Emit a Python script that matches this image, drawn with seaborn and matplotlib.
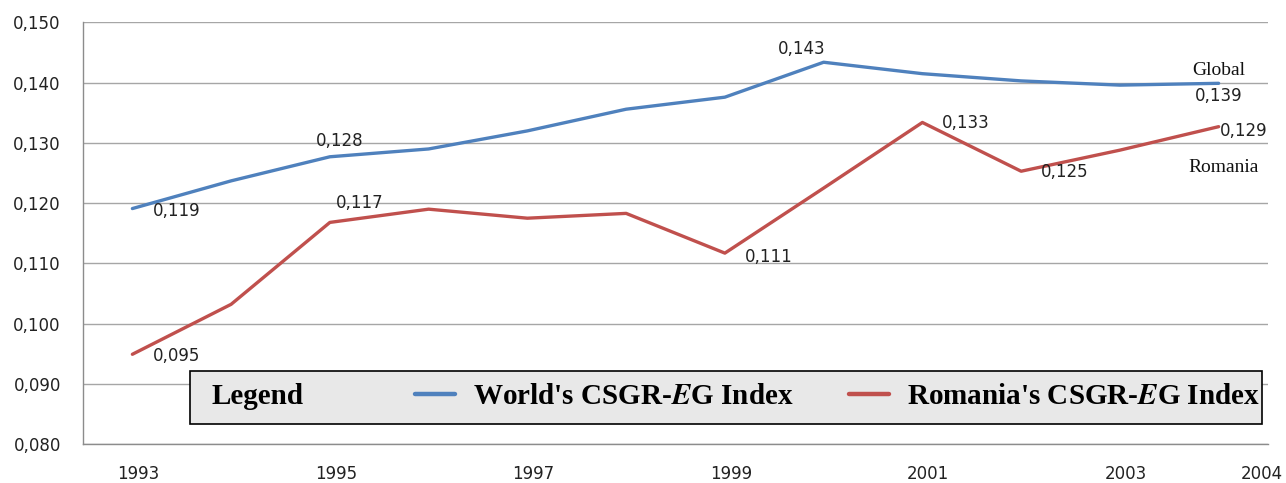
import matplotlib
matplotlib.use("Agg")
import pandas as pd
import matplotlib.pyplot as plt
import matplotlib.transforms as mtransforms
import seaborn as sns
from matplotlib.lines import Line2D
from matplotlib.patches import Rectangle
from matplotlib.ticker import FixedLocator, FuncFormatter

# --- data ---
years = list(range(1993, 2005))
world = [0.1191, 0.1237, 0.1277, 0.1290, 0.1320, 0.1356, 0.1376, 0.1434, 0.1415, 0.1403, 0.1396, 0.1399]
romania = [0.0949, 0.1032, 0.1168, 0.1190, 0.1175, 0.1183, 0.1117, 0.1225, 0.1334, 0.1253, 0.1288, 0.1327]
series_names = ["World", "Romania"]
legend_labels = ["World's CSGR-$\\mathbfit{E}$G Index", "Romania's CSGR-$\\mathbfit{E}$G Index"]
colors = ["#4f81bd", "#c0504d"]
year_labels = ["1993", "1995", "1997", "1999", "2001", "2003"]

# value labels: series, year, text, offset in pixels
value_labels = [
    ("World", 1993, "0,119", 44, -2),
    ("World", 1995, "0,128", 10, 16),
    ("World", 2000, "0,143", -22, 13),
    ("World", 2004, "0,139", 0, -13),
    ("Romania", 1993, "0,095", 44, -2),
    ("Romania", 1995, "0,117", 30, 19),
    ("Romania", 1999, "0,111", 44, -4),
    ("Romania", 2001, "0,133", 43, -1),
    ("Romania", 2002, "0,125", 44, -1),
    ("Romania", 2004, "0,129", 25, -4),
]
# series names at the end of the lines
end_labels = [("World", "Global", 0, 13), ("Romania", "Romania", 5, -41)]

df = pd.DataFrame({
    "year": years * 2,
    "value": world + romania,
    "series": [series_names[0]] * len(years) + [series_names[1]] * len(years),
})
values = {"World": dict(zip(years, world)), "Romania": dict(zip(years, romania))}

sns.set_style("white")
plt.rcParams["mathtext.fontset"] = "stix"

W, H = 1286, 483
fig = plt.figure(figsize=(W / 100, H / 100), dpi=100)
ax = fig.add_axes([83 / W, 1 - 444 / H, (1268 - 83) / W, (444 - 22.5) / H])

sns.lineplot(data=df, x="year", y="value", hue="series", palette=colors,
             linewidth=2.4, legend=False, ax=ax)

ax.set_xlim(1992.5, 2004.5)
ax.set_ylim(0.080, 0.150)
ax.set_xlabel("")
ax.set_ylabel("")

# y axis
ax.yaxis.set_major_locator(FixedLocator([0.08 + 0.01 * i for i in range(8)]))
ax.yaxis.set_major_formatter(FuncFormatter(lambda v, p: f"{v:.3f}".replace(".", ",")))
ax.yaxis.grid(True, color="#a6a6a6", linewidth=1)
ax.set_axisbelow(True)

# x axis: tick marks between categories, labels on odd years
bounds = [y - 0.5 for y in years] + [years[-1] + 0.5]
ax.xaxis.set_major_locator(FixedLocator(bounds))
ax.xaxis.set_major_formatter(FuncFormatter(lambda v, p: "2004" if v > 2004 else ""))
ax.xaxis.set_minor_locator(FixedLocator([int(s) for s in year_labels]))
ax.xaxis.set_minor_formatter(FuncFormatter(lambda v, p: str(int(round(v)))))

ax.tick_params(axis="x", which="major", direction="out", length=5, width=1,
               color="#8c8c8c", pad=10, labelsize=12, labelcolor="#222222")
ax.tick_params(axis="x", which="minor", length=0, pad=15, labelsize=12, labelcolor="#222222")
ax.tick_params(axis="y", direction="out", length=5, width=1, color="#8c8c8c",
               pad=11, labelsize=12, labelcolor="#222222")

for side in ["top", "right"]:
    ax.spines[side].set_visible(False)
for side in ["left", "bottom"]:
    ax.spines[side].set_color("#8c8c8c")
    ax.spines[side].set_linewidth(1)

# nudge the year labels a little like the original
fig.canvas.draw()
for lab in ax.xaxis.get_minorticklabels():
    lab.set_transform(lab.get_transform() + mtransforms.ScaledTranslation(0.06, 0, fig.dpi_scale_trans))
for lab in ax.xaxis.get_majorticklabels():
    lab.set_transform(lab.get_transform() + mtransforms.ScaledTranslation(-0.06, 0, fig.dpi_scale_trans))

# value labels
for s, yr, txt, dx, dy in value_labels:
    ax.annotate(txt, xy=(yr, values[s][yr]), xytext=(dx, dy), textcoords="offset pixels",
                ha="center", va="center", fontsize=12, color="#222222")
for s, txt, dx, dy in end_labels:
    ax.annotate(txt, xy=(years[-1], values[s][years[-1]]), xytext=(dx, dy),
                textcoords="offset pixels", ha="center", va="center",
                fontsize=14, family="Liberation Serif", color="#111111")

# legend box
ax.add_patch(Rectangle((190 / W, 1 - 424 / H), (1262 - 190) / W, (424 - 371) / H,
                       transform=fig.transFigure, facecolor="#e8e8e8", edgecolor="black",
                       linewidth=1.2, zorder=4, clip_on=False))
ax.text(211 / W, 1 - 397 / H, "Legend", transform=fig.transFigure, ha="left", va="center",
        fontsize=21, fontweight="bold", family="Liberation Serif", color="black", zorder=5)
handles = [Line2D([], [], color=c, linewidth=3.2) for c in colors]
leg = ax.legend(handles, legend_labels, loc="center left",
                bbox_to_anchor=(415 / W, 1 - 397 / H), bbox_transform=fig.transFigure,
                ncol=2, frameon=False, handlelength=1.38, handletextpad=0.6,
                columnspacing=1.9, borderpad=0, borderaxespad=0, labelcolor="black",
                prop=dict(family="Liberation Serif", weight="bold", size=21))
leg.set_zorder(6)

fig.savefig("out.png", dpi=100, facecolor="white")
